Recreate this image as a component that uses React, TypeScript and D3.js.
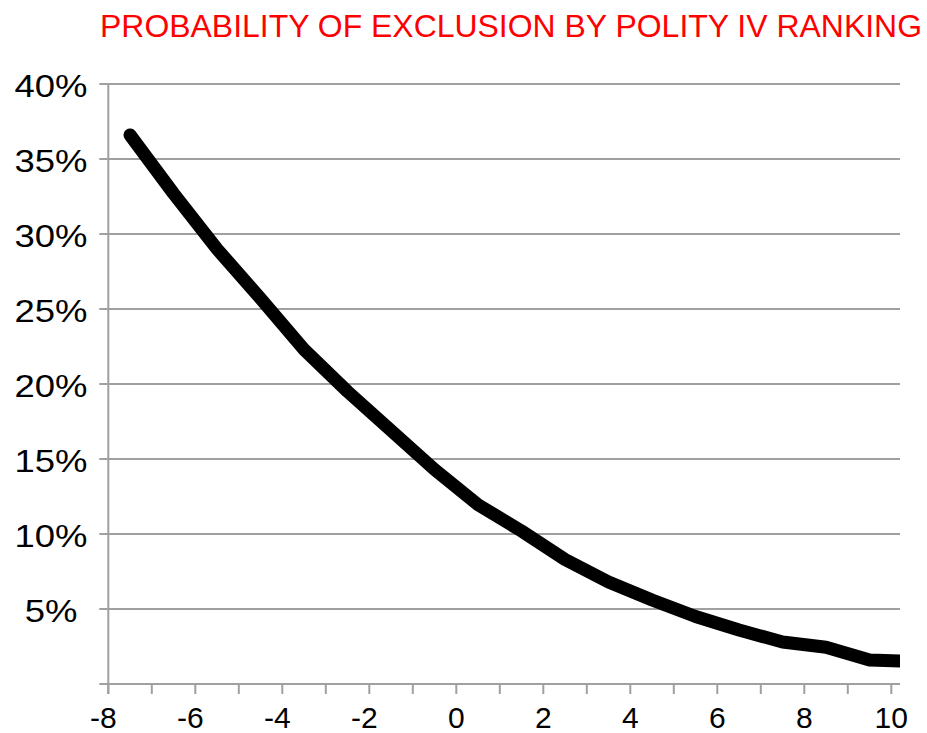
import React from "react";
import * as d3 from "d3";

// Polity IV score (midpoints of each one-point bin) and probability of exclusion (%)
const polityScore = [-7.5, -6.5, -5.5, -4.5, -3.5, -2.5, -1.5, -0.5, 0.5, 1.5, 2.5, 3.5, 4.5, 5.5, 6.5, 7.5, 8.5, 9.5, 10.5];
const exclusionPct = [36.6, 32.7, 29.0, 25.7, 22.3, 19.5, 16.9, 14.3, 11.95, 10.2, 8.3, 6.8, 5.6, 4.5, 3.6, 2.8, 2.45, 1.6, 1.5];

const xTickValues = d3.range(-8, 11, 1);
const xLabelValues = [-8, -6, -4, -2, 0, 2, 4, 6, 8, 10];
const yTickValues = [0, 5, 10, 15, 20, 25, 30, 35, 40];
const yLabelValues = [5, 10, 15, 20, 25, 30, 35, 40];

const TITLE = "PROBABILITY OF EXCLUSION BY POLITY IV RANKING";

const W = 927;
const H = 733;
const plotLeft = 108.3;
const plotRight = 900;
const plotTop = 84;
const plotBottom = 684;
const gridColor = "#a0a0a0";
const font = "'Liberation Sans', Arial, Helvetica, sans-serif";

export default function App() {
  const x = d3.scaleLinear().domain([-8, 10.2]).range([plotLeft, plotRight]);
  const y = d3.scaleLinear().domain([0, 40]).range([plotBottom, plotTop]);

  const points = polityScore.map((p, i) => [p, exclusionPct[i]] as [number, number]);
  const line = d3
    .line<[number, number]>()
    .x((d) => x(d[0]))
    .y((d) => y(d[1]));

  return (
    <svg
      width={W}
      height={H}
      viewBox={`0 0 ${W} ${H}`}
      style={{ position: "absolute", left: 0, top: 0, background: "#fff" }}
    >
      <defs>
        <clipPath id="plot-clip">
          <rect x={0} y={0} width={plotRight} height={H} />
        </clipPath>
      </defs>

      <text
        x={100}
        y={36.5}
        fill="#ff0000"
        fontFamily={font}
        fontSize={31}
        textLength={822}
        lengthAdjust="spacingAndGlyphs"
      >
        {TITLE}
      </text>

      {/* horizontal gridlines with left stubs */}
      {yTickValues.map((v) => (
        <line
          key={"g" + v}
          x1={plotLeft - 9}
          x2={plotRight}
          y1={y(v)}
          y2={y(v)}
          stroke={gridColor}
          strokeWidth={2}
        />
      ))}

      {/* vertical axis */}
      <line x1={plotLeft} x2={plotLeft} y1={y(40)} y2={plotBottom + 10} stroke={gridColor} strokeWidth={2} />

      {/* x ticks */}
      {xTickValues.map((v) => (
        <line
          key={"t" + v}
          x1={x(v)}
          x2={x(v)}
          y1={plotBottom}
          y2={plotBottom + 10}
          stroke={gridColor}
          strokeWidth={2}
        />
      ))}

      {/* y labels */}
      {yLabelValues.map((v) => (
        <text
          key={"yl" + v}
          transform={`translate(51, ${y(v) + 13}) scale(1.14, 1)`}
          textAnchor="middle"
          fontFamily={font}
          fontSize={32}
          fill="#000"
        >
          {v + "%"}
        </text>
      ))}

      {/* x labels */}
      {xLabelValues.map((v) => (
        <text
          key={"xl" + v}
          x={x(v) + (v < 0 ? -5 : 0)}
          y={728}
          textAnchor="middle"
          fontFamily={font}
          fontSize={30}
          fill="#000"
        >
          {String(v)}
        </text>
      ))}

      <g clipPath="url(#plot-clip)">
        <path
          d={line(points) || ""}
          fill="none"
          stroke="#000"
          strokeWidth={13}
          strokeLinecap="round"
          strokeLinejoin="round"
        />
      </g>
    </svg>
  );
}
